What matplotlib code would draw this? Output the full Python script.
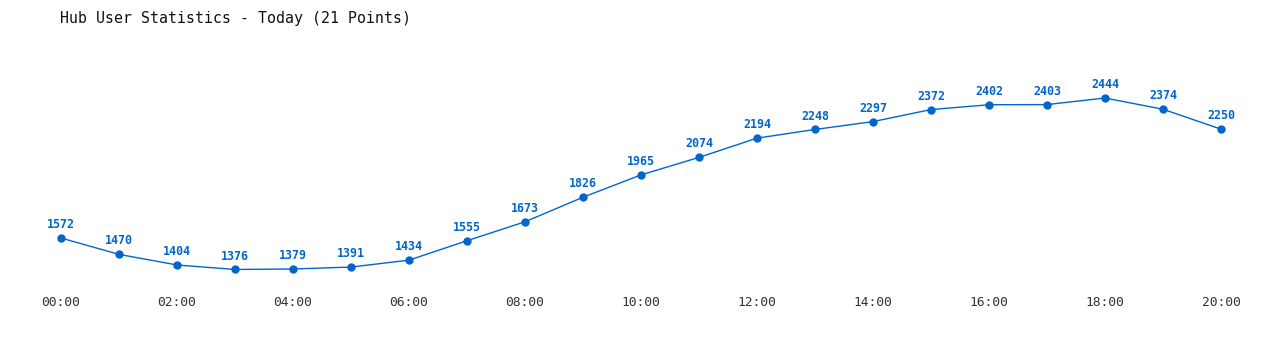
import matplotlib
matplotlib.use("Agg")
import matplotlib.pyplot as plt

# Hub users per hour, today
hours = list(range(21))
users = [1572, 1470, 1404, 1376, 1379, 1391, 1434, 1555, 1673, 1826, 1965,
         2074, 2194, 2248, 2297, 2372, 2402, 2403, 2444, 2374, 2250]
tick_hours = list(range(0, 21, 2))
tick_labels = [f"{h:02d}:00" for h in tick_hours]

BLUE = "#0066cc"
MONO = "DejaVu Sans Mono"

fig = plt.figure(figsize=(12.8, 3.5), dpi=100)
ax = fig.add_axes([0, 0, 1, 1])

ax.plot(hours, users, color=BLUE, linewidth=1.0, marker="o", markersize=5)

for h, v in zip(hours, users):
    ax.annotate(str(v), (h, v), xytext=(0, 5), textcoords="offset points",
                ha="center", va="bottom", color=BLUE, fontsize=8.4,
                fontweight="bold", family=MONO)

# map data to pixel layout of the original
px_per_hour = 58.0
px_per_user = 0.16055
ax.set_xlim(-61 / px_per_hour, (1280 - 61) / px_per_hour)
ax.set_ylim(1572 - (350 - 238) / px_per_user, 1572 + 238 / px_per_user)
ax.axis("off")

for h, lab in zip(tick_hours, tick_labels):
    ax.text(h, 1572 - (303 - 238) / px_per_user, lab, ha="center", va="center",
            fontsize=9.3, color="#333333", family=MONO)

fig.text(60 / 1280, 1 - 18 / 350, "Hub User Statistics - Today (21 Points)",
         ha="left", va="center", fontsize=10.7, color="#111111", family=MONO)

fig.savefig("out.png", dpi=100)
